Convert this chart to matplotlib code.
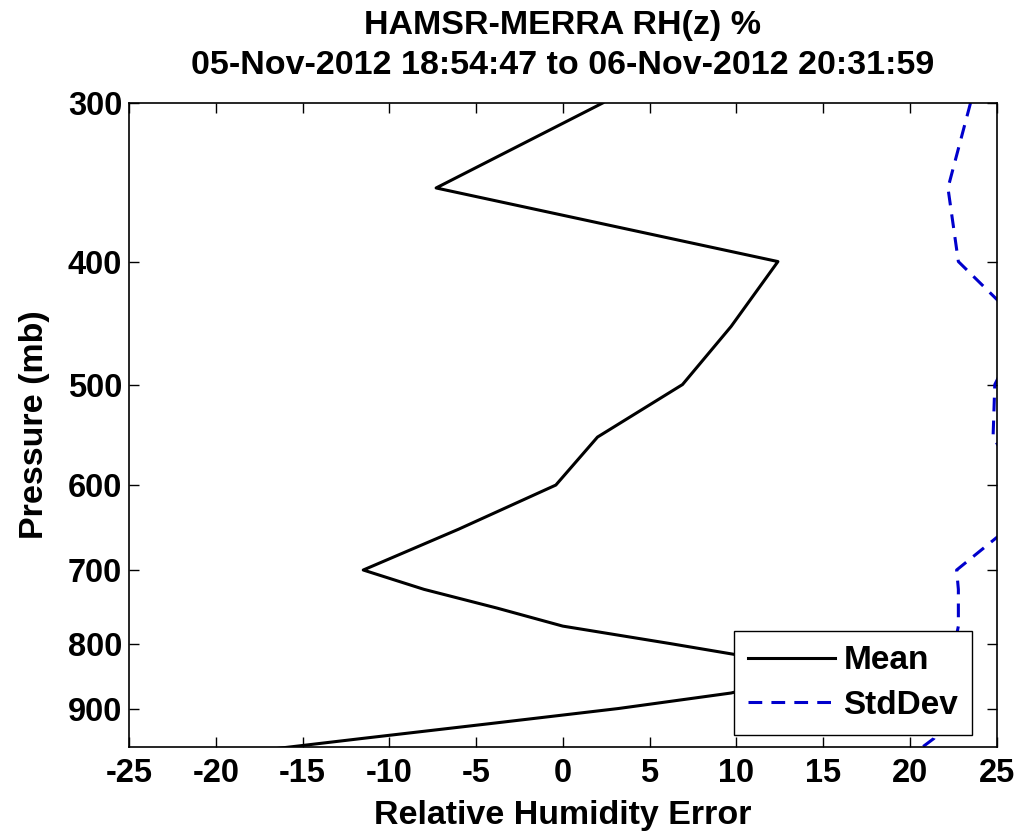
#!/usr/bin/env python3
import numpy as np
import matplotlib.pyplot as plt
from matplotlib.ticker import ScalarFormatter, NullLocator
plt.switch_backend('agg')

# pressure levels (mb)
pres = [300, 350, 400, 450, 500, 550, 600, 650, 700, 725, 750, 775,
        800, 825, 850, 875, 900, 925, 950, 975]
# mean RH error
mean_err = [2.3, -7.3, 12.4, 9.7, 6.9, 2.0, -0.4, -6.0, -11.5, -8.0, -3.8, 0.0,
            6.2, 12.0, 13.5, 9.7, 3.2, -4.2, -11.5, -18.5]
# std dev of RH error
std_err = [23.5, 22.2, 22.8, 26.6, 24.9, 24.8, 26.5, 25.6, 22.7, 22.8, 22.8, 22.8,
           22.6, 22.4, 22.2, 22.0, 21.9, 21.7, 21.4, 20.3]

xticks = [-25, -20, -15, -10, -5, 0, 5, 10, 15, 20, 25]
yticks = [300, 400, 500, 600, 700, 800, 900]

title = 'HAMSR-MERRA RH(z) %\n05-Nov-2012 18:54:47 to 06-Nov-2012 20:31:59'


def main():
    plt.rcParams['font.family'] = ['Liberation Sans', 'DejaVu Sans']
    plt.rcParams['font.weight'] = 'bold'
    plt.rcParams['axes.unicode_minus'] = False
    fig = plt.figure(figsize=(10.2, 8.36), dpi=100)
    ax = fig.add_axes([0.1265, 0.1065, 0.8505, 0.7703])

    ax.plot(mean_err, pres, color='black', lw=2.2, label='Mean')
    ax.plot(std_err, pres, color='#0000cc', lw=2.2, ls=(0, (4.5, 3)),
            label='StdDev')

    ax.set_yscale('log')
    ax.set_ylim(965, 300)
    ax.set_xlim(-25, 25)
    ax.set_yticks(yticks)
    ax.yaxis.set_major_formatter(ScalarFormatter())
    ax.yaxis.set_minor_locator(NullLocator())
    ax.set_xticks(xticks)

    ax.tick_params(direction='in', length=7, width=1, top=True, right=True,
                   labelsize=23.5)
    ax.tick_params(axis='x', pad=8)
    ax.tick_params(axis='y', pad=5)
    for s in ax.spines.values():
        s.set_linewidth(1.2)

    ax.set_xlabel('Relative Humidity Error', fontsize=24.5, fontweight='bold',
                  labelpad=8)
    ax.set_ylabel('Pressure (mb)', fontsize=24.5, fontweight='bold', labelpad=13)
    ax.set_title(title, fontsize=24.5, fontweight='bold', linespacing=1.38, pad=21)

    leg = ax.legend(loc='lower right', bbox_to_anchor=(0.972, 0.019),
                    fontsize=24, fancybox=False, framealpha=1,
                    edgecolor='black', handlelength=2.6, borderpad=0.42,
                    labelspacing=0.4, handletextpad=0.25, borderaxespad=0)
    leg.get_frame().set_linewidth(1.0)

    fig.savefig('out.png', dpi=100)


if __name__ == '__main__':
    main()
